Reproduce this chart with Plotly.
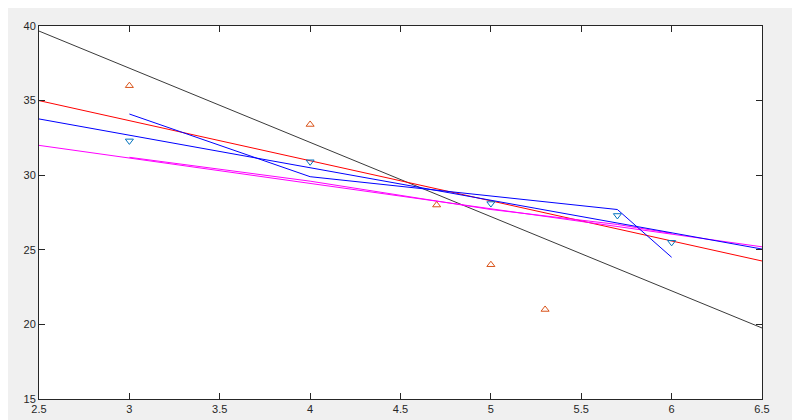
import plotly.graph_objects as go

# observed samples
orange_x = [3, 4, 4.7, 5, 5.3]
orange_y = [36.0, 33.4, 28.0, 24.0, 21.0]
blue_pts_x = [3, 4, 5, 5.7, 6]
blue_pts_y = [32.3, 30.9, 28.1, 27.3, 25.5]

# fitted curves
blue_poly_x = [3, 4, 5.7, 6]
blue_poly_y = [34.1, 29.9, 27.7, 24.5]
blue_line_x = [2.5, 6.5]
blue_line_y = [33.77, 25.05]
red_line_x = [2.5, 6.5]
red_line_y = [35.0, 24.25]
black_line_x = [2.5, 6.5]
black_line_y = [39.66, 19.76]
magenta_line_x = [2.5, 6.5]
magenta_line_y = [32.0, 25.2]
magenta_poly_x = [3, 4, 5, 5.7, 6]
magenta_poly_y = [31.2, 29.6, 27.7, 26.7, 26.1]

x_ticks = [2.5, 3, 3.5, 4, 4.5, 5, 5.5, 6, 6.5]
y_ticks = [15, 20, 25, 30, 35, 40]

fig = go.Figure()


def add_line(x, y, color):
    fig.add_trace(go.Scatter(x=x, y=y, mode="lines",
                             line=dict(color=color, width=1), showlegend=False))


add_line(black_line_x, black_line_y, "#3a3a3a")
add_line(red_line_x, red_line_y, "#FF0000")
add_line(magenta_line_x, magenta_line_y, "#FF00FF")
add_line(magenta_poly_x, magenta_poly_y, "#FF00FF")
add_line(blue_line_x, blue_line_y, "#0000FF")
add_line(blue_poly_x, blue_poly_y, "#0000FF")

fig.add_trace(go.Scatter(
    x=orange_x, y=orange_y, mode="markers", showlegend=False,
    marker=dict(symbol="triangle-up-open", size=7, color="#D95319", line=dict(width=1)),
))
fig.add_trace(go.Scatter(
    x=blue_pts_x, y=blue_pts_y, mode="markers", showlegend=False,
    marker=dict(symbol="triangle-down-open", size=7, color="#0072BD", line=dict(width=1)),
))

axis_style = dict(
    showgrid=False, zeroline=False, showline=True, linecolor="#262626", linewidth=1,
    mirror="ticks", ticks="inside", ticklen=6, tickcolor="#262626",
    tickfont=dict(family="Liberation Sans, Arial, sans-serif", size=11, color="#262626"),
)

# page body adds 8px offset; margins compensate so the axes land where the reference has them
fig.update_layout(
    width=800, height=420,
    paper_bgcolor="#F0F0F0", plot_bgcolor="#FFFFFF",
    margin=dict(l=31, r=46, t=18, b=29),
    xaxis=dict(range=[2.5, 6.5], tickvals=x_ticks, ticktext=[f"{v:g}" for v in x_ticks], **axis_style),
    yaxis=dict(range=[15, 40], tickvals=y_ticks, ticktext=[str(v) for v in y_ticks], **axis_style),
)

fig.write_html("out.html")
